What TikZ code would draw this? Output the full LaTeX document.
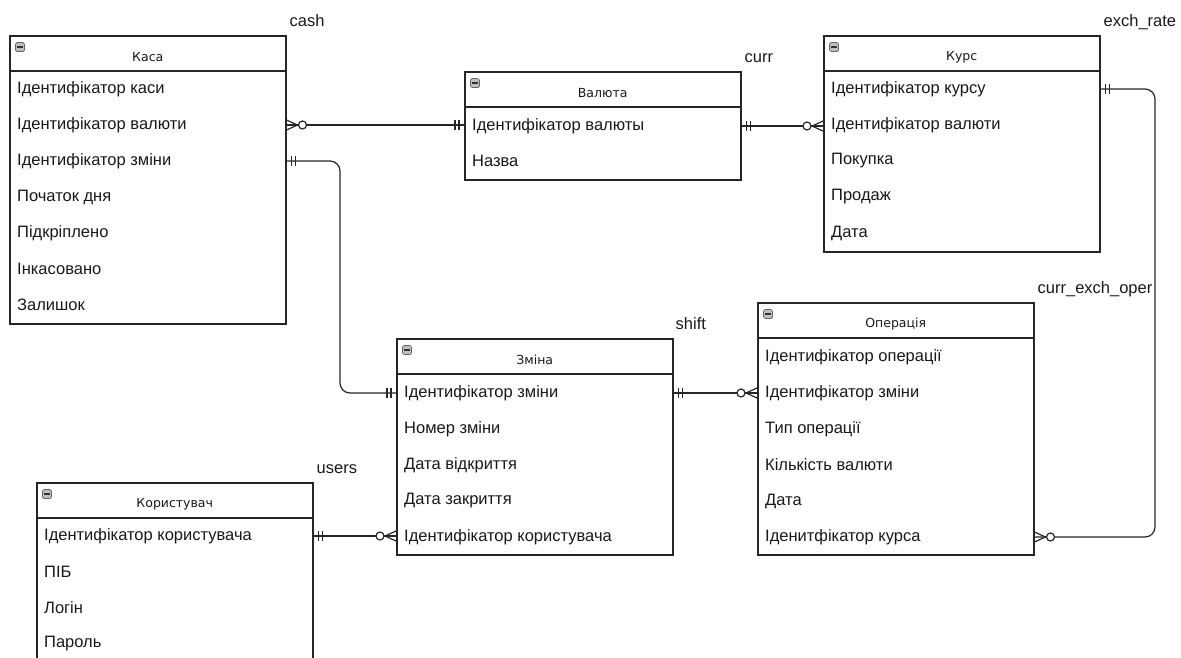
\documentclass[tikz,border=0pt]{standalone}
\usepackage{fontspec}
\setmainfont{Liberation Sans}
\newfontfamily\headfont{DejaVu Sans}
\usetikzlibrary{positioning,calc,decorations.markings}

\tikzset{
  table/.style={draw=black!85, line width=1.5pt, fill=white, anchor=north west,
    inner sep=0pt, minimum width=276pt},
  headrule/.style={draw=black!85, line width=1.5pt},
  title/.style={font=\headfont\fontsize{12.5}{14}\selectfont, text=black!90, inner sep=0pt},
  row/.style={anchor=west, inner sep=0pt, font=\fontsize{16.5}{19}\selectfont, text=black!90},
  tag/.style={inner sep=0pt, font=\fontsize{16.5}{19}\selectfont, text=black!90},
  minus/.style={draw=black!60, fill=black!25, rounded corners=1.5pt, minimum size=9pt,
    inner sep=0pt, line width=0.7pt,
    path picture={\draw[black!80, line width=1.1pt]
      ([xshift=1.8pt]path picture bounding box.west) -- ([xshift=-1.8pt]path picture bounding box.east);}},
  link/.style={draw=black!85, line width=1.2pt, rounded corners=10pt},
  tip/.style={draw=black!85, line width=1.2pt, sharp corners},
  one start/.style={postaction={decorate, decoration={markings,
    mark=at position 5pt with {\draw[tip] (0,-5pt) -- (0,5pt);},
    mark=at position 9pt with {\draw[tip] (0,-5pt) -- (0,5pt);}}}},
  one end/.style={postaction={decorate, decoration={markings,
    mark=at position -5pt with {\draw[tip] (0,-5pt) -- (0,5pt);},
    mark=at position -9pt with {\draw[tip] (0,-5pt) -- (0,5pt);}}}},
  many start/.style={postaction={decorate, decoration={markings,
    mark=at position 11pt with {\draw[tip] (-11pt,5pt) -- (0,0) -- (-11pt,-5pt);},
    mark=at position 16pt with {\draw[tip, fill=white] (0,0) circle[radius=4pt];}}}},
  many end/.style={postaction={decorate, decoration={markings,
    mark=at position -11pt with {\draw[tip] (11pt,5pt) -- (0,0) -- (11pt,-5pt);},
    mark=at position -16pt with {\draw[tip, fill=white] (0,0) circle[radius=4pt];}}}},
}

\begin{document}
\begin{tikzpicture}[x=1pt, y=-1pt]
    \useasboundingbox (0,0) rectangle (1181,657);
    \clip (0,0) rectangle (1181,657);

    % Tables
    \node[table, minimum height=288pt] (kasa) at (9,35) {};
    \node[table, minimum height=108pt] (valuta) at (464,71) {};
    \node[table, minimum height=216pt] (kurs) at (823,35) {};
    \node[table, minimum height=216pt] (zmina) at (396,338) {};
    \node[table, minimum height=252pt] (oper) at (757,302) {};
    \node[table, minimum height=252pt] (user) at (36,482) {};

    % Header rules, icons and titles
    \draw[headrule] ([yshift=-36pt]kasa.north west) -- ([yshift=-36pt]kasa.north east);
    \draw[headrule] ([yshift=-36pt]valuta.north west) -- ([yshift=-36pt]valuta.north east);
    \draw[headrule] ([yshift=-36pt]kurs.north west) -- ([yshift=-36pt]kurs.north east);
    \draw[headrule] ([yshift=-36pt]zmina.north west) -- ([yshift=-36pt]zmina.north east);
    \draw[headrule] ([yshift=-36pt]oper.north west) -- ([yshift=-36pt]oper.north east);
    \draw[headrule] ([yshift=-36pt]user.north west) -- ([yshift=-36pt]user.north east);

    \node[minus] at ([xshift=11pt,yshift=-12pt]kasa.north west) {};
    \node[minus] at ([xshift=11pt,yshift=-12pt]valuta.north west) {};
    \node[minus] at ([xshift=11pt,yshift=-12pt]kurs.north west) {};
    \node[minus] at ([xshift=11pt,yshift=-12pt]zmina.north west) {};
    \node[minus] at ([xshift=11pt,yshift=-12pt]oper.north west) {};
    \node[minus] at ([xshift=11pt,yshift=-12pt]user.north west) {};

    \node[title] (kasaT) at ([yshift=-22pt]kasa.north) {Каса};
    \node[title] (valutaT) at ([yshift=-22pt]valuta.north) {Валюта};
    \node[title] (kursT) at ([yshift=-22pt]kurs.north) {Курс};
    \node[title] (zminaT) at ([yshift=-22pt]zmina.north) {Зміна};
    \node[title] (operT) at ([yshift=-22pt]oper.north) {Операція};
    \node[title] (userT) at ([yshift=-22pt]user.north) {Користувач};

    % Table names
    \node[tag, above right=9pt and 3pt of kasa.north east, anchor=base west] (cash) {cash};
    \node[tag, above right=9pt and 3pt of valuta.north east, anchor=base west] (curr) {curr};
    \node[tag, above right=9pt and 3pt of kurs.north east, anchor=base west] (exch) {exch\_rate};
    \node[tag, above right=9pt and 2pt of zmina.north east, anchor=base west] (shift) {shift};
    \node[tag, above right=9pt and 3pt of oper.north east, anchor=base west] (ceo) {curr\_exch\_oper};
    \node[tag, above right=9pt and 3pt of user.north east, anchor=base west] (users) {users};

    % Rows of Каса
    \node[row] (kasa1) at (17,89) {Ідентифікатор каси};
    \node[row] (kasa2) at (17,125) {Ідентифікатор валюти};
    \node[row] (kasa3) at (17,161) {Ідентифікатор зміни};
    \node[row] (kasa4) at (17,197) {Початок дня};
    \node[row] (kasa5) at (17,233) {Підкріплено};
    \node[row] (kasa6) at (17,269) {Інкасовано};
    \node[row] (kasa7) at (17,305) {Залишок};

    % Rows of Валюта
    \node[row] (valuta1) at (472,126) {Ідентифікатор валюты};
    \node[row] (valuta2) at (472,161) {Назва};

    % Rows of Курс
    \node[row] (kurs1) at (831,89) {Ідентифікатор курсу};
    \node[row] (kurs2) at (831,125) {Ідентифікатор валюти};
    \node[row] (kurs3) at (831,161) {Покупка};
    \node[row] (kurs4) at (831,197) {Продаж};
    \node[row] (kurs5) at (831,233) {Дата};

    % Rows of Зміна
    \node[row] (zmina1) at (404,393) {Ідентифікатор зміни};
    \node[row] (zmina2) at (404,429) {Номер зміни};
    \node[row] (zmina3) at (404,465) {Дата відкриття};
    \node[row] (zmina4) at (404,501) {Дата закриття};
    \node[row] (zmina5) at (404,537) {Ідентифікатор користувача};

    % Rows of Операція
    \node[row] (oper1) at (765,357) {Ідентифікатор операції};
    \node[row] (oper2) at (765,393) {Ідентифікатор зміни};
    \node[row] (oper3) at (765,429) {Тип операції};
    \node[row] (oper4) at (765,465) {Кількість валюти};
    \node[row] (oper5) at (765,501) {Дата};
    \node[row] (oper6) at (765,537) {Іденитфікатор курса};

    % Rows of Користувач
    \node[row] (user1) at (44,536) {Ідентифікатор користувача};
    \node[row] (user2) at (44,572) {ПІБ};
    \node[row] (user3) at (44,608) {Логін};
    \node[row] (user4) at (44,644) {Пароль};

    % Bends of the long links
    \coordinate (kz) at (340,0);
    \coordinate (ko) at (1155,0);

    % Links
    \draw[link, many start, one end] (kasa.east |- kasa2) -- (valuta.west |- kasa2);
    \draw[link, one start, one end] (kasa.east |- kasa3) -| (kz |- zmina1) -- (zmina.west |- zmina1);
    \draw[link, one start, many end] (valuta.east |- valuta1) -- (kurs.west |- valuta1);
    \draw[link, one start, many end] (kurs.east |- kurs1) -| (ko |- oper6) -- (oper.east |- oper6);
    \draw[link, one start, many end] (zmina.east |- zmina1) -- (oper.west |- zmina1);
    \draw[link, one start, many end] (user.east |- user1) -- (zmina.west |- user1);

\end{tikzpicture}
\end{document}
